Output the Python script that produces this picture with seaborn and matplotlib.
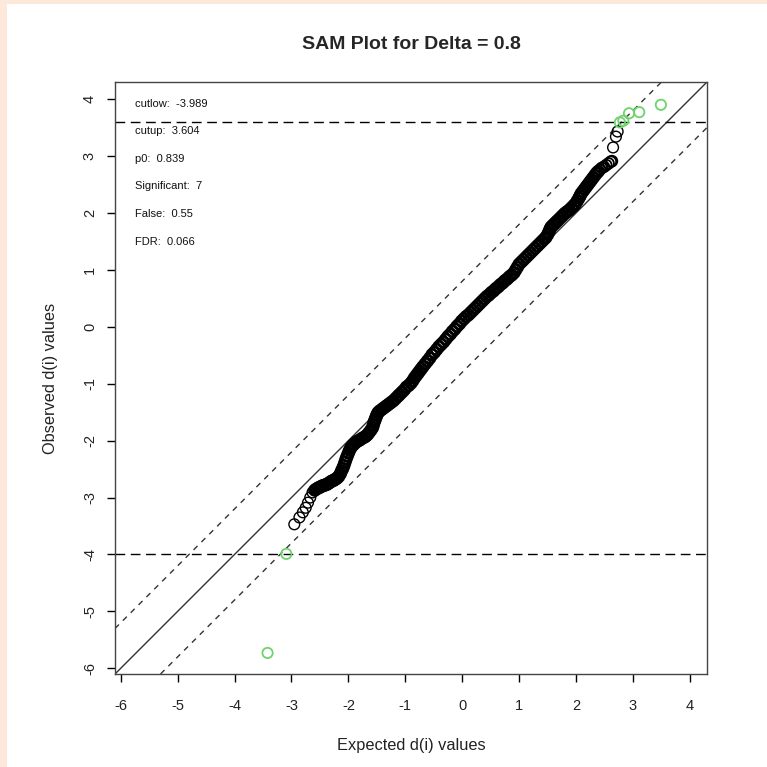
import numpy as np
import pandas as pd
import matplotlib
matplotlib.use("Agg")
import matplotlib.pyplot as plt
import seaborn as sns
from matplotlib.patches import Rectangle

# ---------------- data ----------------
title = "SAM Plot for Delta = 0.8"
delta = 0.8
cutlow = -3.989
cutup = 3.604
info_labels = ["cutlow:  -3.989", "cutup:  3.604", "p0:  0.839",
               "Significant:  7", "False:  0.55", "FDR:  0.066"]

# non-significant genes (expected, observed)
expected_ns = [
    -2.95, -2.86, -2.80, -2.75, -2.71, -2.67, -2.63,
    -2.59, -2.56, -2.53, -2.50, -2.47, -2.44, -2.41, -2.38, -2.35, -2.32,
    -2.29, -2.26, -2.23, -2.20, -2.17, -2.14, -2.12, -2.10, -2.08, -2.06,
    -2.04, -2.02, -2.00, -1.98, -1.96, -1.93, -1.90, -1.87, -1.84, -1.80,
    -1.76, -1.72, -1.69, -1.66, -1.63, -1.60, -1.575, -1.56, -1.545, -1.53,
    -1.515, -1.50, -1.48, -1.45, -1.41, -1.37, -1.33, -1.29, -1.25, -1.21,
    -1.17, -1.13, -1.10, -1.06, -1.02, -0.98, -0.94, -0.90, -0.87, -0.84,
    -0.81, -0.78, -0.75, -0.72, -0.69, -0.65, -0.61, -0.57, -0.53, -0.49,
    -0.45, -0.41, -0.37, -0.33, -0.29, -0.25, -0.21, -0.17, -0.13, -0.09,
    -0.05, -0.01, 0.03, 0.07, 0.11, 0.15, 0.19, 0.23, 0.27, 0.31, 0.35,
    0.39, 0.43, 0.47, 0.51, 0.55, 0.59, 0.63, 0.67, 0.71, 0.75, 0.79, 0.83,
    0.87, 0.91, 0.94, 0.97, 1.00, 1.04, 1.08, 1.12, 1.16, 1.20, 1.24, 1.28,
    1.32, 1.36, 1.40, 1.44, 1.47, 1.50, 1.52, 1.54, 1.56, 1.59, 1.62, 1.65,
    1.68, 1.72, 1.76, 1.80, 1.84, 1.88, 1.92, 1.96, 1.99, 2.02, 2.05, 2.07,
    2.09, 2.12, 2.15, 2.18, 2.21, 2.24, 2.27, 2.30, 2.33, 2.36, 2.39, 2.42,
    2.45, 2.49, 2.53, 2.57, 2.61, 2.63,
    2.65, 2.70, 2.73,
]
observed_ns = [
    -3.47, -3.35, -3.26, -3.18, -3.09, -3.00, -2.91,
    -2.87, -2.85, -2.83, -2.82, -2.80, -2.79, -2.78, -2.77, -2.75, -2.73,
    -2.71, -2.70, -2.68, -2.66, -2.63, -2.58, -2.53, -2.49, -2.44, -2.38,
    -2.32, -2.27, -2.22, -2.17, -2.13, -2.09, -2.06, -2.03, -2.01, -1.99,
    -1.96, -1.94, -1.92, -1.89, -1.85, -1.81, -1.77, -1.72, -1.67, -1.63,
    -1.59, -1.55, -1.51, -1.48, -1.45, -1.42, -1.39, -1.36, -1.33, -1.30,
    -1.26, -1.22, -1.19, -1.15, -1.11, -1.06, -1.03, -0.99, -0.95, -0.90,
    -0.86, -0.82, -0.78, -0.74, -0.70, -0.65, -0.60, -0.55, -0.49, -0.45,
    -0.40, -0.35, -0.31, -0.27, -0.22, -0.17, -0.13, -0.08, -0.04, 0.01,
    0.05, 0.10, 0.14, 0.18, 0.21, 0.25, 0.29, 0.33, 0.37, 0.41, 0.45,
    0.49, 0.53, 0.56, 0.60, 0.63, 0.67, 0.70, 0.74, 0.77, 0.81, 0.84, 0.88,
    0.91, 0.95, 1.00, 1.05, 1.10, 1.14, 1.18, 1.22, 1.26, 1.30, 1.34, 1.38,
    1.42, 1.46, 1.50, 1.54, 1.57, 1.62, 1.66, 1.71, 1.75, 1.78, 1.81, 1.84,
    1.87, 1.91, 1.95, 1.99, 2.02, 2.05, 2.09, 2.13, 2.16, 2.21, 2.26, 2.30,
    2.34, 2.38, 2.42, 2.46, 2.50, 2.54, 2.58, 2.62, 2.66, 2.70, 2.73, 2.76,
    2.79, 2.81, 2.84, 2.87, 2.90, 2.91,
    3.15, 3.34, 3.43,
]

# significant genes (expected, observed)
expected_sig = [-3.42, -3.09, 2.77, 2.83, 2.93, 3.11, 3.49]
observed_sig = [-5.73, -3.99, 3.59, 3.62, 3.75, 3.77, 3.90]

x_ticks = [-6, -5, -4, -3, -2, -1, 0, 1, 2, 3, 4]
y_ticks = [-6, -5, -4, -3, -2, -1, 0, 1, 2, 3, 4]

# ---------------- figure ----------------
sns.set_style("white")
plt.rcParams["font.family"] = ["Liberation Sans", "DejaVu Sans"]

fig = plt.figure(figsize=(7.67, 7.67), dpi=100)
fig.patch.set_facecolor("#fde9da")
fig.patches.append(Rectangle((7 / 767, 0), 1, 1 - 4 / 767, transform=fig.transFigure,
                             facecolor="white", edgecolor="none", zorder=-10))

ax = fig.add_axes([115 / 767, 1 - 674 / 767, 592 / 767, 592 / 767])
ax.set_facecolor("white")

df_ns = pd.DataFrame({"expected": expected_ns, "observed": observed_ns})
df_sig = pd.DataFrame({"expected": expected_sig, "observed": observed_sig})

sns.scatterplot(data=df_ns, x="expected", y="observed", ax=ax, s=60,
                marker="o", facecolor="none", edgecolor="black", linewidth=1.8, zorder=3)
sns.scatterplot(data=df_sig, x="expected", y="observed", ax=ax, s=55,
                marker="o", facecolor="none", edgecolor="#6fd36b", linewidth=1.3, zorder=4)

# thinner ring outline where points are sparse (tails), thick where they pile up
ns_exp = np.asarray(expected_ns)
ns_lw = np.where((ns_exp < -2.61) | (ns_exp > 2.64), 1.0,
                 np.where(ns_exp > 2.40, 1.3, 1.8))
colls = ax.collections
colls[0].set_facecolor("none")
colls[0].set_edgecolor("black")
colls[0].set_linewidths(ns_lw)
colls[1].set_facecolor("none")
colls[1].set_edgecolor("#6fd36b")
colls[1].set_linewidth(1.3)

xlim = (-6.1, 4.3)
ylim = (-6.1, 4.3)
ax.set_xlim(xlim)
ax.set_ylim(ylim)

# diagonal reference lines
ax.axline((0, 0), slope=1, color="#333333", lw=1.0, zorder=2)
ax.axline((0, delta), slope=1, color="#333333", lw=1.0, ls=(0, (4, 4)), zorder=2)
ax.axline((0, -delta), slope=1, color="#333333", lw=1.0, ls=(0, (4, 4)), zorder=2)
# cut lines
ax.axhline(cutup, color="black", lw=1.0, ls=(0, (7, 4)), zorder=2)
ax.axhline(cutlow, color="black", lw=1.0, ls=(0, (7, 4)), zorder=2)

# info text
for i, t in enumerate(info_labels):
    ax.text(-5.74, 3.92 - 0.485 * i, t, fontsize=8, va="center", ha="left", color="#111111")

ax.set_xticks(x_ticks)
ax.set_yticks(y_ticks)
ax.set_xticklabels([str(v) for v in x_ticks])
ax.set_yticklabels([str(v) for v in y_ticks], rotation=90, va="center")
ax.tick_params(axis="both", which="major", direction="out", length=6, width=1,
               labelsize=10.5, bottom=True, left=True, color="black", labelcolor="#222222")
ax.tick_params(axis="x", pad=12)
ax.tick_params(axis="y", pad=7)
for sp in ax.spines.values():
    sp.set_color("#444444")
    sp.set_linewidth(1.0)
    sp.set_visible(True)

ax.set_xlabel("Expected d(i) values", fontsize=11.8, labelpad=18, color="#222222")
ax.set_ylabel("Observed d(i) values", fontsize=11.8, labelpad=18, color="#222222")
ax.set_title(title, fontsize=14, fontweight="bold", pad=24)

fig.savefig("out.png", dpi=100, facecolor=fig.get_facecolor())
